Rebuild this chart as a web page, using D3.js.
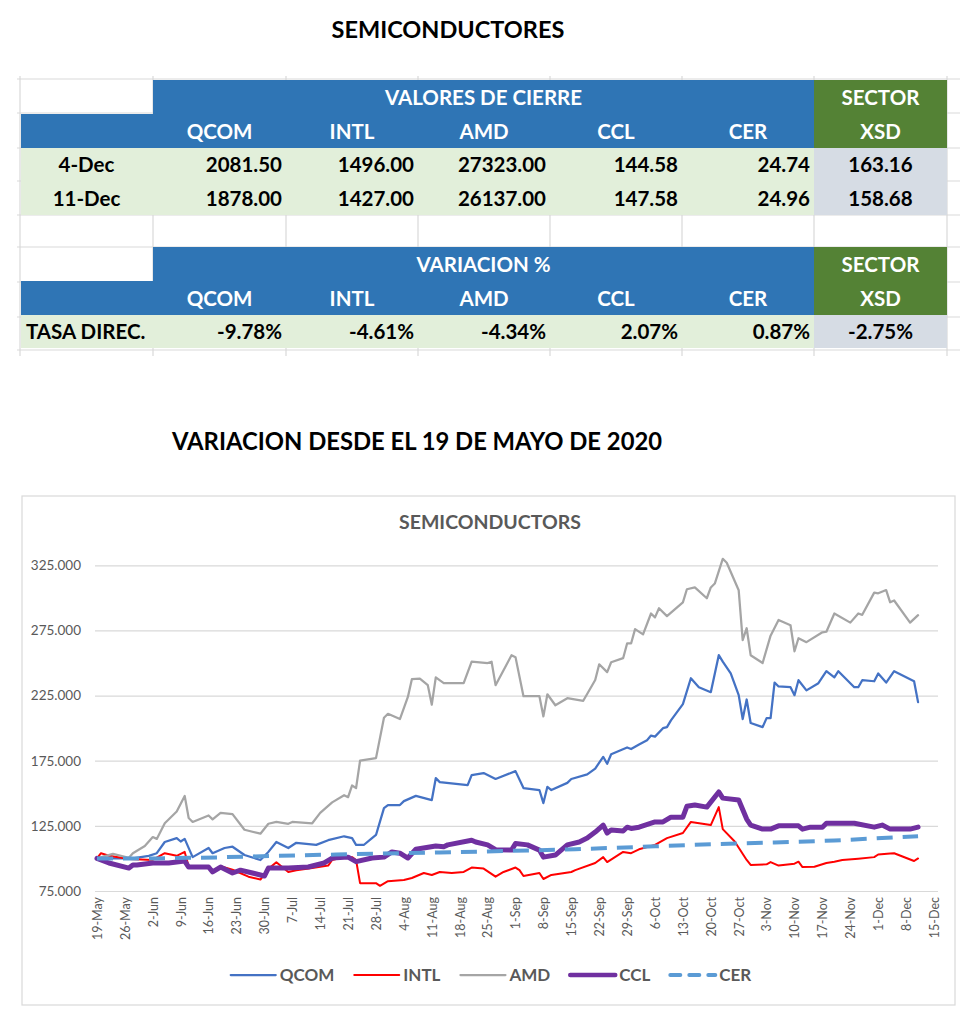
<!DOCTYPE html>
<html><head><meta charset="utf-8">
<script src="https://cdn.jsdelivr.net/npm/d3@7"></script>
<style>
body{margin:0;background:#fff;}
svg{display:block;}
text{font-family:Lato,"Open Sans",sans-serif;}
</style>
</head><body>
<svg id="c" width="980" height="1025"></svg>
<script>
// ---------- DATA ----------
const tickers = ["QCOM","INTL","AMD","CCL","CER"];
const closeRowLabels = ["4-Dec","11-Dec"];
const close4Dec = [2081.50,1496.00,27323.00,144.58,24.74];
const close11Dec = [1878.00,1427.00,26137.00,147.58,24.96];
const xsdClose = [163.16,158.68];
const variationLabel = "TASA DIREC.";
const variationPct = [-9.78,-4.61,-4.34,2.07,0.87];
const xsdVariationPct = -2.75;
const yTicks = [75,125,175,225,275,325];

const qcom = [["2020-05-19",100],["2020-05-28",100],["2020-06-01",102],["2020-06-03",104],["2020-06-05",112.6],["2020-06-08",115.6],["2020-06-09",113],["2020-06-10",115],["2020-06-12",101],["2020-06-16",108],["2020-06-17",104],["2020-06-20",108],["2020-06-22",109],["2020-06-25",102.6],["2020-06-29",98.8],["2020-07-01",105],["2020-07-03",112.6],["2020-07-06",108],["2020-07-08",112],["2020-07-13",110.4],["2020-07-16",114],["2020-07-20",117],["2020-07-22",115.6],["2020-07-23",110.4],["2020-07-25",110.5],["2020-07-27",115.6],["2020-07-28",118],["2020-07-30",138.6],["2020-07-31",141],["2020-08-03",141],["2020-08-04",144],["2020-08-07",148],["2020-08-11",144.8],["2020-08-12",161.6],["2020-08-13",158.6],["2020-08-20",156.3],["2020-08-21",164],["2020-08-24",165.5],["2020-08-27",161],["2020-09-01",167],["2020-09-03",154],["2020-09-07",152.5],["2020-09-08",142.5],["2020-09-09",155],["2020-09-10",152.5],["2020-09-14",158],["2020-09-15",161],["2020-09-19",164.5],["2020-09-21",169],["2020-09-23",178],["2020-09-24",172.7],["2020-09-25",180],["2020-09-29",185.2],["2020-09-30",184],["2020-10-02",187.5],["2020-10-04",190.8],["2020-10-05",194.3],["2020-10-06",193.5],["2020-10-08",200],["2020-10-09",200.8],["2020-10-10",206],["2020-10-13",218.4],["2020-10-15",238.3],["2020-10-17",231.4],["2020-10-20",227.6],["2020-10-22",256],["2020-10-23",251],["2020-10-25",242],["2020-10-27",225.3],["2020-10-28",207],["2020-10-29",222],["2020-10-30",204],["2020-11-02",200.8],["2020-11-03",207.7],["2020-11-04",207.7],["2020-11-05",235],["2020-11-06",232],["2020-11-09",231.4],["2020-11-10",225.3],["2020-11-11",236.8],["2020-11-13",229],["2020-11-16",234.5],["2020-11-18",243.7],["2020-11-20",239],["2020-11-21",243.7],["2020-11-25",231.4],["2020-11-26",231.4],["2020-11-27",236.8],["2020-11-30",236],["2020-12-01",242],["2020-12-03",235],["2020-12-05",243.7],["2020-12-10",236],["2020-12-11",220]];

const intl = [["2020-05-19",100],["2020-05-20",104],["2020-05-22",102],["2020-05-27",99.5],["2020-06-02",98.8],["2020-06-05",104],["2020-06-08",102],["2020-06-10",105],["2020-06-11",94],["2020-06-16",93.4],["2020-06-17",90.5],["2020-06-19",94],["2020-06-22",91.3],["2020-06-26",86],["2020-06-29",83.8],["2020-07-01",92],["2020-07-03",97],["2020-07-06",89.6],["2020-07-08",91],["2020-07-12",92.6],["2020-07-16",94.5],["2020-07-17",98.8],["2020-07-20",101],["2020-07-22",101],["2020-07-23",98.8],["2020-07-24",81],["2020-07-28",81],["2020-07-29",79],["2020-07-31",82.5],["2020-08-04",83.4],["2020-08-06",85],["2020-08-09",88.8],["2020-08-11",87.3],["2020-08-13",89.6],["2020-08-16",88.8],["2020-08-19",89.6],["2020-08-21",93],["2020-08-24",92.2],["2020-08-27",86],["2020-08-29",89.6],["2020-09-01",93],["2020-09-02",91],["2020-09-03",86.5],["2020-09-07",88.8],["2020-09-08",84.2],["2020-09-10",87.3],["2020-09-15",89.6],["2020-09-16",91],["2020-09-21",96.5],["2020-09-23",101],["2020-09-24",97.2],["2020-09-28",105],["2020-09-30",104],["2020-10-02",107],["2020-10-06",110.4],["2020-10-09",115.6],["2020-10-13",119.5],["2020-10-15",128],["2020-10-20",125.6],["2020-10-22",139.4],["2020-10-23",122.5],["2020-10-26",113],["2020-10-29",98.8],["2020-10-30",95],["2020-11-03",95.5],["2020-11-04",97.2],["2020-11-06",94.5],["2020-11-10",96],["2020-11-11",97.5],["2020-11-12",93.4],["2020-11-15",93.6],["2020-11-18",96.5],["2020-11-20",97.5],["2020-11-22",98.8],["2020-11-26",99.8],["2020-11-30",101],["2020-12-01",103],["2020-12-04",103.8],["2020-12-05",104],["2020-12-10",98],["2020-12-11",100]];

const amd = [["2020-05-19",100],["2020-05-23",103.5],["2020-05-27",100.5],["2020-05-28",104],["2020-05-31",109.5],["2020-06-02",116.4],["2020-06-03",115],["2020-06-05",127],["2020-06-08",136],["2020-06-10",148],["2020-06-11",131],["2020-06-12",128],["2020-06-16",133],["2020-06-17",130],["2020-06-19",135],["2020-06-22",134],["2020-06-25",122],["2020-06-29",119],["2020-07-01",126.6],["2020-07-03",128],["2020-07-06",126.6],["2020-07-07",128],["2020-07-12",127],["2020-07-14",135],["2020-07-17",143],["2020-07-20",148.5],["2020-07-21",147],["2020-07-22",156],["2020-07-23",154],["2020-07-24",175],["2020-07-28",177],["2020-07-30",208],["2020-07-31",211],["2020-08-03",207],["2020-08-05",224],["2020-08-06",237.6],["2020-08-08",238],["2020-08-10",233],["2020-08-11",218],["2020-08-12",239],["2020-08-14",234.5],["2020-08-19",234.5],["2020-08-21",251],["2020-08-25",250],["2020-08-26",251],["2020-08-27",233],["2020-08-31",256],["2020-09-01",254.5],["2020-09-03",224.5],["2020-09-07",224.5],["2020-09-08",209],["2020-09-09",226],["2020-09-11",217.6],["2020-09-14",223],["2020-09-18",221],["2020-09-21",237],["2020-09-22",249],["2020-09-24",243],["2020-09-25",250.6],["2020-09-28",253.7],["2020-09-29",265],["2020-09-30",265],["2020-10-01",276],["2020-10-03",272],["2020-10-05",288],["2020-10-06",285],["2020-10-07",292],["2020-10-09",286],["2020-10-13",296.6],["2020-10-14",306.6],["2020-10-16",308],["2020-10-19",299.7],["2020-10-20",308],["2020-10-21",311],["2020-10-23",330],["2020-10-24",327],["2020-10-27",305.8],["2020-10-28",267.5],["2020-10-29",276.7],["2020-10-30",256],["2020-11-02",250],["2020-11-04",271],["2020-11-06",283],["2020-11-09",279],["2020-11-10",259],["2020-11-11",269],["2020-11-13",266],["2020-11-17",273.6],["2020-11-18",274],["2020-11-20",288],["2020-11-24",281],["2020-11-26",288],["2020-11-27",287],["2020-11-30",304],["2020-12-01",303.5],["2020-12-03",306],["2020-12-04",296.6],["2020-12-05",298],["2020-12-09",281],["2020-12-11",286.7]];

const ccl = [["2020-05-19",100],["2020-05-22",96.5],["2020-05-27",92.6],["2020-05-28",95],["2020-05-29",95],["2020-06-02",96.5],["2020-06-06",96.5],["2020-06-10",98],["2020-06-11",93.4],["2020-06-16",93.4],["2020-06-17",89.6],["2020-06-19",93.4],["2020-06-22",88.8],["2020-06-24",91],["2020-06-27",88.8],["2020-06-30",86.5],["2020-07-01",92.6],["2020-07-06",92.6],["2020-07-11",93.4],["2020-07-15",96.5],["2020-07-17",100.3],["2020-07-21",101],["2020-07-23",97.5],["2020-07-27",100.3],["2020-07-30",101],["2020-08-01",105],["2020-08-03",104],["2020-08-05",100.3],["2020-08-07",107],["2020-08-12",109.5],["2020-08-14",109],["2020-08-15",110.4],["2020-08-21",114],["2020-08-22",112.6],["2020-08-25",110.4],["2020-08-27",106.7],["2020-08-31",106.4],["2020-09-01",111.4],["2020-09-04",110.4],["2020-09-07",106.4],["2020-09-08",101],["2020-09-11",102.6],["2020-09-14",110.4],["2020-09-17",112.6],["2020-09-19",115.6],["2020-09-21",120.2],["2020-09-23",125.6],["2020-09-24",119.5],["2020-09-25",121.8],["2020-09-28",121],["2020-09-29",124],["2020-09-30",123],["2020-10-02",124],["2020-10-06",128],["2020-10-08",128],["2020-10-10",131.7],["2020-10-13",131.7],["2020-10-14",140],["2020-10-16",141],["2020-10-19",139.4],["2020-10-22",151],["2020-10-23",146.3],["2020-10-27",144.8],["2020-10-29",130.2],["2020-10-30",125.6],["2020-11-02",122.5],["2020-11-04",122.5],["2020-11-06",125],["2020-11-11",125],["2020-11-12",122.5],["2020-11-14",124],["2020-11-17",124],["2020-11-18",127],["2020-11-25",127],["2020-11-30",124],["2020-12-02",125.6],["2020-12-04",122.5],["2020-12-09",122.5],["2020-12-11",124]];

const cer = [["2020-05-19",100],["2020-06-02",100],["2020-06-18",100.8],["2020-07-03",102],["2020-07-18",103],["2020-08-13",104.6],["2020-08-31",105.8],["2020-09-16",107],["2020-10-06",109.3],["2020-10-21",111],["2020-11-05",112.2],["2020-11-20",113.8],["2020-11-30",115.3],["2020-12-11",117]];

const seriesNames = ["QCOM","INTL","AMD","CCL","CER"];
const seriesData = [qcom, intl, amd, ccl, cer];
const seriesColors = ["#4472c4","#ff0000","#a5a5a5","#7030a0","#5b9bd5"];
const seriesWidths = [2.25,2,2.25,5,4];
const seriesDash = [null,null,null,null,"16,10"];

// ---------- DRAW ----------
const svg = d3.select("#c");
const TXT = "#595959";

svg.append("text").attr("x",448).attr("y",38).attr("text-anchor","middle")
  .attr("font-weight","bold").attr("font-size",23.5).attr("fill","#000").text("SEMICONDUCTORES");

// table geometry
const cx = [20,153,286,418,550,682,814,947];
const grid = svg.append("g");
[79,113,148,181,215,247,282,317,350].forEach(y=>{
  grid.append("line").attr("x1",17).attr("x2",960).attr("y1",y).attr("y2",y)
    .attr("stroke","#d9d9d9").attr("stroke-width",1.2);
});
cx.forEach(x=>{
  grid.append("line").attr("x1",x).attr("x2",x).attr("y1",76).attr("y2",356)
    .attr("stroke","#d9d9d9").attr("stroke-width",1.2);
});
const BLUE="#2f75b5", GREEN="#548235", LGREEN="#e2efda", LGRAY="#d6dce4";
function rect(x0,y0,x1,y1,f){svg.append("rect").attr("x",x0).attr("y",y0).attr("width",x1-x0).attr("height",y1-y0).attr("fill",f);}
function txt(x,y,s,anchor,fill,size){svg.append("text").attr("x",x).attr("y",y).attr("dy","0.36em")
  .attr("text-anchor",anchor).attr("font-weight","bold").attr("font-size",size).attr("fill",fill).text(s);}

function tableBlock(yTop, title, rowsLabels, rowsValues, xsdVals, fmt){
  const h1=yTop, h2=yTop+34, d0=yTop+68;
  const nRows=rowsLabels.length;
  const rowH = nRows===1?33:33.5;
  const dEnd = d0+rowH*nRows;
  rect(cx[1],h1,cx[6],h2,BLUE);
  rect(cx[0]+1,h2,cx[6],d0,BLUE);
  rect(cx[6],h1,cx[7],d0,GREEN);
  rect(cx[0]+1,d0,cx[6],dEnd,LGREEN);
  rect(cx[6],d0,cx[7],dEnd,LGRAY);
  txt((cx[1]+cx[6])/2,h1+18,title,"middle","#fff",20.5);
  txt((cx[6]+cx[7])/2,h1+18,"SECTOR","middle","#fff",20.5);
  tickers.forEach((t,i)=>txt((cx[i+1]+cx[i+2])/2,h2+18,t,"middle","#fff",20.5));
  txt((cx[6]+cx[7])/2,h2+18,"XSD","middle","#fff",20.5);
  rowsLabels.forEach((lab,r)=>{
    const yc=d0+rowH*r+rowH/2;
    if(nRows===1) txt(cx[0]+6,yc,lab,"start","#000",20.5);
    else txt((cx[0]+cx[1])/2,yc,lab,"middle","#000",20.5);
    rowsValues[r].forEach((v,i)=>txt(cx[i+2]-4,yc,fmt(v),"end","#000",20.5));
    txt((cx[6]+cx[7])/2,yc,fmt(xsdVals[r]),"middle","#000",20.5);
  });
}
tableBlock(80,"VALORES DE CIERRE",closeRowLabels,[close4Dec,close11Dec],xsdClose,v=>v.toFixed(2));
tableBlock(247,"VARIACION %",[variationLabel],[variationPct],[xsdVariationPct],v=>v.toFixed(2)+"%");

svg.append("text").attr("x",417).attr("y",450).attr("text-anchor","middle")
  .attr("font-weight","bold").attr("font-size",23.8).attr("fill","#000").text("VARIACION DESDE EL 19 DE MAYO DE 2020");

// chart box
svg.append("rect").attr("x",22).attr("y",496).attr("width",933).attr("height",509)
  .attr("fill","#fff").attr("stroke","#d9d9d9").attr("stroke-width",1.2);
svg.append("text").attr("x",490).attr("y",529).attr("text-anchor","middle")
  .attr("font-weight","bold").attr("font-size",19.5).attr("fill",TXT).text("SEMICONDUCTORS");

const parse = d3.timeParse("%Y-%m-%d");
const x = d3.scaleTime().domain([parse("2020-05-19"),parse("2020-12-15")]).range([97,934]);
const y = d3.scaleLinear().domain([75,325]).range([891,565.3]);

// grid + y labels
const yAxis = d3.axisLeft(y).tickValues(yTicks).tickFormat(d3.format(".3f")).tickSize(-(938-95)).tickPadding(14);
const gy = svg.append("g").attr("transform","translate(95,0)").call(yAxis);
gy.select(".domain").remove();
gy.selectAll(".tick line").attr("stroke","#d9d9d9").attr("stroke-width",1.2);
gy.selectAll(".tick text").attr("fill",TXT).attr("font-size",13.5).attr("font-family","Lato");

// x axis labels
const xTickDates = d3.timeDay.range(parse("2020-05-19"), d3.timeDay.offset(parse("2020-12-15"),1), 7);
const xAxis = d3.axisBottom(x).tickValues(xTickDates).tickFormat(d3.timeFormat("%-d-%b")).tickSize(0);
const gx = svg.append("g").attr("transform","translate(0,891)").call(xAxis);
gx.select(".domain").remove();
gx.selectAll(".tick text").attr("fill",TXT).attr("font-size",12.5).attr("font-family","Lato")
  .attr("text-anchor","end").attr("transform","translate(0,6) rotate(-90)").attr("dx",0).attr("dy","0.35em").attr("y",0).attr("x",0);

// lines
const line = d3.line().x(d=>x(parse(d[0]))).y(d=>y(d[1]));
seriesData.forEach((s,i)=>{
  svg.append("path").datum(s).attr("d",line).attr("fill","none")
    .attr("stroke",seriesColors[i]).attr("stroke-width",seriesWidths[i])
    .attr("stroke-linejoin","round").attr("stroke-linecap",seriesDash[i]?"butt":"round")
    .attr("stroke-dasharray",seriesDash[i]);
});

// legend
const lg = svg.append("g");
let lx = 0;
seriesNames.forEach((n,i)=>{
  const g = lg.append("g");
  g.append("line").attr("x1",0).attr("x2",45).attr("y1",0).attr("y2",0)
    .attr("stroke",seriesColors[i]).attr("stroke-width",Math.min(seriesWidths[i],4.5))
    .attr("stroke-dasharray",seriesDash[i]?"10,9":null).attr("stroke-linecap","round");
  const t = g.append("text").attr("x",49).attr("dy","0.36em").attr("font-size",17)
    .attr("font-weight","bold").attr("fill",TXT).text(n);
  const w = 49 + t.node().getComputedTextLength();
  g.attr("transform",`translate(${lx},0)`);
  lx += w + 20;
});
const totalW = lx - 20;
lg.attr("transform",`translate(${491 - totalW/2},975)`);
</script>
</body></html>
